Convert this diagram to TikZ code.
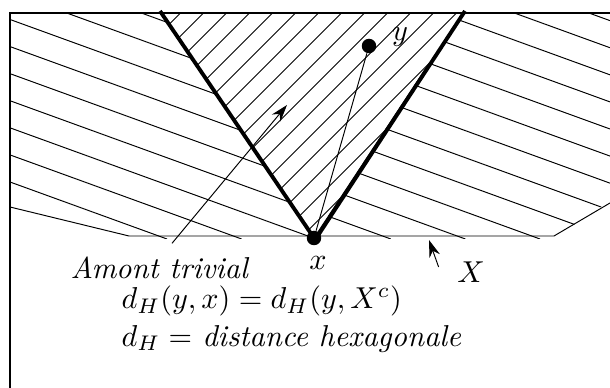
\documentclass[tikz,border=0pt]{standalone}
\usepackage{amsmath,amssymb}
\usepackage{tikz}
\usetikzlibrary{arrows.meta,positioning}

\begin{document}
\begin{tikzpicture}[
    x=0.02cm, y=-0.02cm,
    frame/.style={line width=1.3pt},
    edge/.style={line width=2.2pt},
    hatch/.style={line width=0.55pt},
    dot/.style={circle, fill=black, inner sep=0pt, minimum size=0.29cm},
    pointer/.style={-{Stealth[length=0.34cm,width=0.22cm]}, line width=0.55pt},
    lab/.style={font=\normalsize, scale=1.72}
]
\useasboundingbox (0,0) rectangle (610,388);

% Corner points of the cone and of X
\coordinate (vleft) at (160,11);
\coordinate (vright) at (465,11);
\coordinate (apex) at (314,238);

% Hatching outside the cone
\begin{scope}
  \clip (10,13) -- (160,13) -- (313,238) -- (318,238) -- (465,13) -- (610,13)
        -- (610,201) -- (552,239) -- (129,239) -- (10,206) -- cycle;
  \foreach \k in {-1,...,15}
    \draw[hatch] ({167+74.6*\k},239) -- ++(-1300,-472);
\end{scope}

% Hatching inside the cone
\begin{scope}
  \clip (160,13) -- (465,13) -- (317,237) -- (313,238) -- cycle;
  \foreach \k in {0,...,16}
    \draw[hatch] ({180.5+23*\k+100},-87) -- ++(-400,400);
\end{scope}

% Border of X
\draw[hatch] (10,207) -- (129,236) -- (554,236) -- (610,203);

% Cone edges
\draw[edge] (vleft) -- (apex);
\draw[edge] (vright) -- (317,237);
\draw[hatch] (apex) -- (428,65);

% Frame
\draw[frame] (10,388) -- (10,13) -- (610,13);

% Points
\node[dot] (xpt) at (apex) {};
\node[dot] (ypt) at (369,46) {};
\draw[hatch] (ypt) -- (xpt);
\node[lab] (ylab) at (400,37) {$y$};
\node[lab] (xlab) at (318,263) {$x$};

% Labels with arrows
\node[lab] (amont) at (160,268) {\textit{Amont trivial}};
\coordinate (amonttip) at (287,105);
\draw[pointer] ([xshift=0.24cm,yshift=0.06cm]amont.north) -- (amonttip);

\node[lab] (Xlab) at (471,272) {$X$};
\coordinate (Xtip) at (429,240);
\draw[pointer] ([shift={(-0.16cm,0.1cm)}]Xlab.west) -- (Xtip);

% Formulas
\node[lab, anchor=west] (dist1) at (111,301) {$d_H(y,x) = d_H(y,X^c)$};
\node[lab, anchor=west] (dist2) at (111,339) {$d_H = $ \textit{distance hexagonale}};

\end{tikzpicture}
\end{document}
